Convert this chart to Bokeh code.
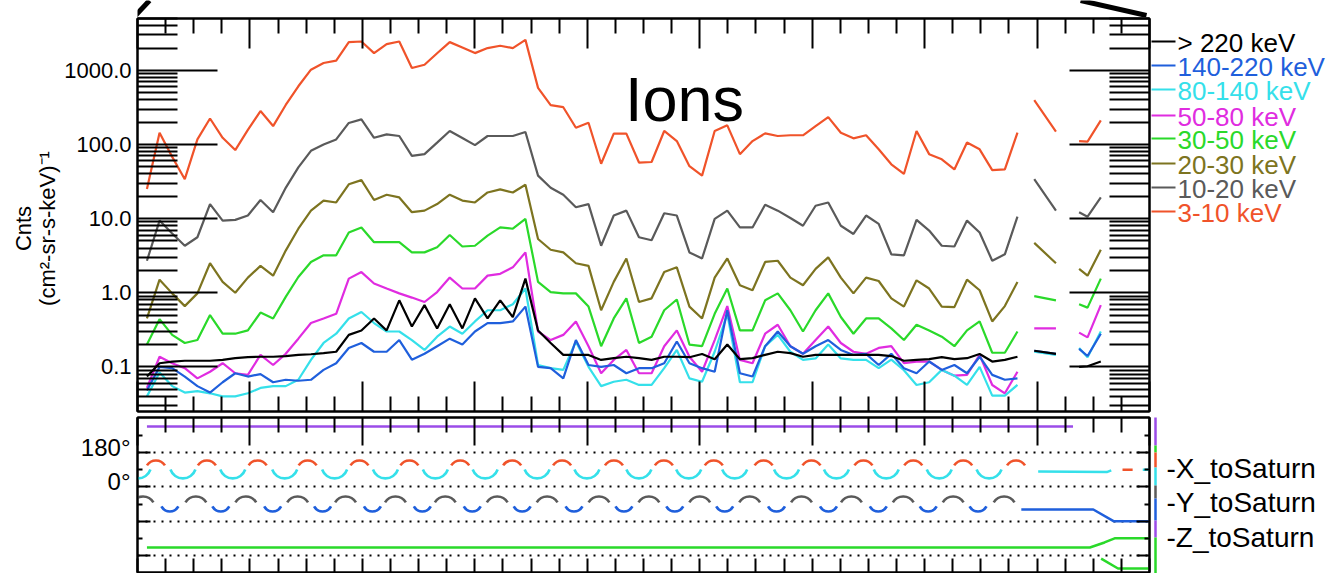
import math
import numpy as np
from bokeh.plotting import figure
from bokeh.models import (Range1d, LogAxis, LinearAxis, FixedTicker, CustomJSTickFormatter,
                          Label, ColumnDataSource, Grid)
from bokeh.core.properties import value
from bokeh.layouts import column, row
from bokeh.embed import file_html
from bokeh.resources import INLINE

nan = float("nan")

# ---------------- data ----------------
# time in hours from the start of the panel (regular sample grid, then two short later passes)
t_main = [round(0.084 + 0.1122 * i, 4) for i in range(70)]
t_late_a = [7.975, 8.168]
t_late_b = [8.374, 8.449, 8.567]
time_h = t_main + [nan] + t_late_a + [nan] + t_late_b

channel_labels = ["> 220 keV", "140-220 keV", "80-140 keV", "50-80 keV",
                  "30-50 keV", "20-30 keV", "10-20 keV", "3-10 keV"]
channel_colors = ["#000000", "#1f5fdc", "#35e0ea", "#e02ce0",
                  "#2ad92a", "#7d7420", "#5a5a5a", "#f0532a"]

ions_3_10 = [25, 144, 68, 34, 117, 224, 123, 84, 157, 282,
             177, 341, 609, 1020, 1254, 1349, 2400, 2447, 1706, 2256,
             2447, 1075, 1189, 1700, 2400, 2037, 1706, 1995, 2143, 1995,
             2575, 580, 339, 318, 168, 196, 55, 140, 140, 57,
             58, 152, 111, 51, 38, 152, 181, 74, 111, 141,
             130, 133, 133, 177, 234, 144, 121, 133, 86, 54,
             40, 152, 74, 63, 46, 106, 86, 45, 46, 144,
             nan, 395, 149, nan, 111, 109, 211]

ions_10_20 = [2.7, 9.4, 6.3, 4.3, 5.6, 15.7, 9.4, 9.6, 11, 17.8,
              12.2, 26, 49, 82, 100, 117, 195, 218, 123, 137,
              130, 70, 74, 106, 152, 122, 98, 130, 130, 130,
              147, 38, 26, 21, 14.2, 15.7, 4.3, 11, 12.8, 5.6,
              5.1, 11.8, 11, 3.5, 2.9, 9.9, 12.8, 7.6, 7.6, 15.4,
              12.8, 10.2, 8.0, 14.9, 16.5, 8.0, 6.2, 11, 8.5, 3.3,
              3.2, 9.6, 6.9, 4.3, 4.2, 9.4, 6.5, 2.7, 3.3, 10.6,
              nan, 34, 12.8, nan, 12.2, 10.6, 19.3]

ions_20_30 = [0.45, 1.5, 0.98, 0.66, 0.98, 2.5, 1.4, 1.0, 1.6, 2.3,
              1.7, 3.7, 7.3, 12.8, 17.5, 16.5, 29, 33, 17.8, 21,
              19.3, 12.2, 12.8, 15.7, 21, 17.5, 16.5, 22.5, 24.8, 22.5,
              28.6, 5.3, 3.8, 3.5, 2.5, 2.3, 0.58, 1.4, 2.9, 0.75,
              0.84, 1.9, 2.2, 0.65, 0.45, 1.6, 2.9, 1.26, 1.08, 2.6,
              2.7, 1.6, 1.26, 2.1, 3.0, 1.6, 0.98, 1.6, 1.44, 0.84,
              0.65, 1.47, 1.14, 0.65, 0.64, 1.5, 1.08, 0.41, 0.66, 1.4,
              nan, 4.7, 2.5, nan, 2.1, 1.7, 3.8]

ions_30_50 = [0.2, 0.44, 0.27, 0.21, 0.23, 0.5, 0.28, 0.28, 0.31, 0.54,
              0.45, 0.88, 1.63, 2.6, 3.2, 3.2, 6.5, 7.6, 4.8, 4.8,
              4.8, 3.5, 3.5, 4.1, 6.0, 4.2, 4.3, 5.9, 7.6, 7.3,
              9.9, 1.4, 1.02, 0.98, 0.98, 0.65, 0.19, 0.45, 0.84, 0.21,
              0.255, 0.58, 0.81, 0.2, 0.19, 0.52, 1.14, 0.31, 0.31, 0.79,
              0.98, 0.58, 0.3, 0.58, 0.98, 0.47, 0.28, 0.45, 0.45, 0.33,
              0.23, 0.37, 0.31, 0.255, 0.19, 0.31, 0.41, 0.155, 0.155, 0.3,
              nan, 0.9, 0.79, nan, 0.7, 0.63, 1.55]

ions_50_80 = [0.052, 0.137, 0.112, 0.096, 0.07, 0.086, 0.112, 0.082, 0.078, 0.145,
              0.106, 0.15, 0.24, 0.39, 0.45, 0.52, 1.55, 1.9, 1.33, 1.14,
              0.98, 0.86, 0.75, 1.02, 1.6, 1.14, 1.14, 1.7, 1.8, 2.2,
              3.5, 0.3, 0.23, 0.27, 0.41, 0.19, 0.082, 0.124, 0.169, 0.082,
              0.082, 0.19, 0.31, 0.137, 0.086, 0.23, 0.66, 0.124, 0.112, 0.28,
              0.37, 0.19, 0.15, 0.23, 0.35, 0.21, 0.16, 0.15, 0.18, 0.19,
              0.112, 0.118, 0.118, 0.091, 0.076, 0.078, 0.145, 0.057, 0.044, 0.086,
              nan, 0.33, 0.33, nan, 0.29, 0.25, 0.68]

ions_80_140 = [0.04, 0.084, 0.055, 0.045, 0.047, 0.044, 0.04, 0.04, 0.044, 0.052,
               0.055, 0.055, 0.067, 0.124, 0.21, 0.28, 0.45, 0.55, 0.39, 0.3,
               0.3, 0.23, 0.169, 0.255, 0.35, 0.28, 0.41, 0.58, 0.58, 0.7,
               1.14, 0.106, 0.096, 0.091, 0.22, 0.1, 0.055, 0.063, 0.067, 0.057,
               0.057, 0.096, 0.169, 0.07, 0.063, 0.16, 0.52, 0.062, 0.062, 0.19,
               0.27, 0.16, 0.124, 0.13, 0.2, 0.13, 0.124, 0.124, 0.096, 0.125,
               0.09, 0.057, 0.062, 0.091, 0.076, 0.057, 0.1, 0.041, 0.041, 0.057,
               nan, 0.16, 0.145, nan, 0.18, 0.135, 0.3]

ions_140_220 = [0.048, 0.1, 0.096, 0.074, 0.055, 0.045, 0.062, 0.082, 0.074, 0.08,
                0.062, 0.067, 0.065, 0.067, 0.091, 0.112, 0.18, 0.21, 0.16, 0.16,
                0.23, 0.125, 0.15, 0.19, 0.24, 0.2, 0.3, 0.39, 0.39, 0.41,
                0.65, 0.1, 0.096, 0.07, 0.23, 0.106, 0.1, 0.106, 0.082, 0.096,
                0.096, 0.112, 0.22, 0.112, 0.096, 0.086, 0.58, 0.082, 0.074, 0.19,
                0.3, 0.19, 0.15, 0.19, 0.23, 0.169, 0.145, 0.15, 0.106, 0.15,
                0.096, 0.082, 0.118, 0.091, 0.106, 0.082, 0.137, 0.078, 0.067, 0.07,
                nan, 0.165, 0.15, nan, 0.175, 0.14, 0.28]

ions_gt220 = [0.074, 0.112, 0.118, 0.121, 0.121, 0.121, 0.124, 0.131, 0.135, 0.137,
              0.137, 0.14, 0.145, 0.148, 0.153, 0.16, 0.27, 0.31, 0.45, 0.31,
              0.79, 0.35, 0.68, 0.33, 0.7, 0.33, 0.84, 0.45, 0.79, 0.47,
              1.55, 0.31, 0.21, 0.145, 0.145, 0.145, 0.124, 0.131, 0.137, 0.131,
              0.124, 0.137, 0.137, 0.135, 0.149, 0.127, 0.2, 0.127, 0.131, 0.145,
              0.16, 0.153, 0.137, 0.145, 0.145, 0.145, 0.145, 0.145, 0.145, 0.14,
              0.121, 0.124, 0.127, 0.135, 0.127, 0.131, 0.149, 0.118, 0.124, 0.137,
              nan, 0.165, 0.15, nan, 0.1, 0.102, 0.118]

series_in_legend_order = [ions_gt220, ions_140_220, ions_80_140, ions_50_80,
                          ions_30_50, ions_20_30, ions_10_20, ions_3_10]

# attitude panel: arc centres (time, h) of the periodic -X / -Y pointing traces
x_pos_arc_t = [0.164, 0.617, 1.069, 1.513, 1.974, 2.418, 2.870, 3.332, 3.776, 4.237,
               4.681, 5.125, 5.568, 5.994, 6.456, 6.899, 7.343, 7.813]
x_neg_arc_t = [0.004, 0.404, 0.847, 1.309, 1.753, 2.205, 2.649, 3.092, 3.554, 3.997,
               4.459, 4.902, 5.311, 5.772, 6.216, 6.659, 7.130, 7.573]
y_pos_arc_t = [0.049, 0.519, 0.963, 1.424, 1.850, 2.294, 2.737, 3.199, 3.643, 4.104,
               4.548, 5.000, 5.444, 5.905, 6.349, 6.810, 7.254, 7.707]
y_neg_arc_t = [0.288, 0.741, 1.202, 1.646, 2.089, 2.533, 2.977, 3.421, 3.882, 4.326,
               4.778, 5.222, 5.683, 6.145, 6.588, 7.032, 7.475]
x_pos_level, x_neg_level = 2.46, 2.63
y_pos_level, y_neg_level = 1.37, 1.565

z_pos_t = [0.084, 8.32]
z_pos_v = [3.76, 3.76]
z_neg_t = [0.084, 8.47, 8.60, 8.69, 9.0]
z_neg_v = [0.233, 0.233, 0.38, 0.50, 0.50]
z_neg2_t = [8.57, 8.72, 9.0]
z_neg2_v = [-0.09, -0.38, -0.38]
y_flat_t = [7.86, 8.50, 8.68, 9.0]
y_flat_v = [1.34, 1.34, 1.0, 1.0]
x_flat_t = [8.01, 8.62, 8.66]
x_flat_v = [2.45, 2.43, 2.48]
x_pos_dash_t = [8.76, 8.85]
x_pos_dash_v = [2.50, 2.50]
x_neg_dash_t = [8.94, 9.0]
x_neg_dash_v = [2.50, 2.50]

att_labels = ["-X_toSaturn", "-Y_toSaturn", "-Z_toSaturn"]
att_tick_labels = ["180°", "0°"]
y_label_lines = ["Cnts", "(cm²-sr-s-keV)⁻¹"]

ORANGE, GRAY, OLIVE, GREEN = "#f0532a", "#5a5a5a", "#7d7420", "#2ad92a"
MAGENTA, CYAN, BLUE, PURPLE = "#e02ce0", "#35e0ea", "#1f5fdc", "#9b4ce8"
FONT = "Liberation Sans"

# ---------------- layout geometry (page px) ----------------
PAGE_W, PAGE_H = 1335, 573
LEFT_W = 61                 # y-label strip
MID_X0, MID_X1 = 61, 1151   # main plots column
F_L, F_R = 135.0, 1149.0    # frame left/right
CONN_H = 17
TOP_H = 414 - CONN_H        # top panel canvas 17..414, frame 18..411
BOT_H = PAGE_H - 414        # bottom panel canvas 414..573, frame 417..572
Y_LO, Y_HI = 0.025, 5000.0
B_HI = 3 + (452 - 417) / 34.33
B_LO = -(572 - 555) / 34.33


def tx(px):
    return (px - F_L) / (F_R - F_L) * 9.0


def ty(py):
    lo, hi = math.log10(Y_LO), math.log10(Y_HI)
    return 10 ** (hi - (py - 18.0) / 393.0 * (hi - lo))


def by(py):
    return B_HI - (py - 417.0) / 155.0 * (B_HI - B_LO)


major_x = list(range(10))
minor_x = [k + q / 4 for k in range(9) for q in (1, 2, 3)]
major_y = [0.1, 1, 10, 100, 1000]
minor_y = [m * 10.0 ** e for e in range(-2, 4) for m in range(2, 10)
           if Y_LO <= m * 10.0 ** e <= Y_HI]

hide_fmt = CustomJSTickFormatter(code="return '';")
MB_L, MB_R = int(F_L) - MID_X0, MID_X1 - int(F_R)


def strip_fig(w, h, x0, x1, y0, y1, mb_l=0, mb_r=0):
    """Axis-less canvas whose data coordinates equal page pixels."""
    f = figure(width=w, height=h, x_range=Range1d(x0, x1), y_range=Range1d(y1, y0),
               x_axis_location=None, y_axis_location=None, output_backend="svg",
               toolbar_location=None, min_border_left=mb_l, min_border_right=mb_r,
               min_border_top=0, min_border_bottom=0)
    f.center = [r for r in f.center if not isinstance(r, Grid)]
    f.outline_line_color = None
    f.background_fill_color = "white"
    f.border_fill_color = "white"
    return f


def x_axis(tick_in, minor_in):
    return LinearAxis(ticker=FixedTicker(ticks=major_x, minor_ticks=minor_x),
                      formatter=hide_fmt, major_tick_in=tick_in, major_tick_out=0,
                      minor_tick_in=minor_in, minor_tick_out=0,
                      major_label_text_font_size="0px", major_label_standoff=0,
                      major_tick_line_width=2, minor_tick_line_width=2,
                      axis_line_width=2, major_tick_line_color="black",
                      minor_tick_line_color="black")


mid_w = MID_X1 - MID_X0

# ---------------- connector strip above the top panel ----------------
# (its frame is aligned with the panels' frames, page x 135..1149)
conn = strip_fig(mid_w, CONN_H, F_L, F_R, 0, CONN_H, MB_L, MB_R)
conn.segment(x0=[133, 1080], y0=[15, 0], x1=[147, 1146], y1=[0, 15],
             line_color="black", line_width=5)

# ---------------- top panel ----------------
p = figure(width=mid_w, height=TOP_H, x_range=Range1d(0, 9), y_range=Range1d(Y_LO, Y_HI),
           y_axis_type="log", x_axis_location=None, y_axis_location=None,
           output_backend="svg", toolbar_location=None,
           min_border_left=MB_L, min_border_right=MB_R,
           min_border_top=1, min_border_bottom=3)
p.center = [r for r in p.center if not isinstance(r, Grid)]
p.outline_line_color = "black"
p.outline_line_width = 2
p.background_fill_color = "white"
p.border_fill_color = "white"

p.add_layout(x_axis(30, 15), "above")
p.add_layout(x_axis(30, 15), "below")
left = LogAxis(ticker=FixedTicker(ticks=major_y, minor_ticks=minor_y),
               formatter=CustomJSTickFormatter(code="return tick.toFixed(1);"),
               major_tick_in=80, major_tick_out=0, minor_tick_in=40, minor_tick_out=0,
               major_label_standoff=6, major_label_text_font_size="22px",
               major_label_text_font=FONT, major_label_text_color="black",
               major_tick_line_width=2, minor_tick_line_width=2, axis_line_width=2)
p.add_layout(left, "left")
right = LogAxis(ticker=FixedTicker(ticks=major_y, minor_ticks=minor_y), formatter=hide_fmt,
                major_tick_in=80, major_tick_out=0, minor_tick_in=40, minor_tick_out=0,
                major_label_standoff=0, major_label_text_font_size="0px",
                major_tick_line_width=2, minor_tick_line_width=2, axis_line_width=2)
p.add_layout(right, "right")

src = ColumnDataSource(dict(t=np.array(time_h, dtype=float),
                            **{f"s{i}": np.array(s, dtype=float)
                               for i, s in enumerate(series_in_legend_order)}))
for i in reversed(range(len(series_in_legend_order))):
    p.line("t", f"s{i}", source=src, line_color=channel_colors[i], line_width=2.2)

p.add_layout(Label(x=tx(683), y=ty(98), text="Ions", text_align="center",
                   text_baseline="alphabetic", text_font=FONT, text_font_size="63px",
                   text_color="black"))

# ---------------- bottom panel ----------------
q = figure(width=mid_w, height=BOT_H, x_range=Range1d(0, 9), y_range=Range1d(B_LO, B_HI),
           x_axis_location=None, y_axis_location=None,
           output_backend="svg", toolbar_location=None,
           min_border_left=MB_L, min_border_right=MB_R,
           min_border_top=3, min_border_bottom=1)
q.center = [r for r in q.center if not isinstance(r, Grid)]
q.outline_line_color = "black"
q.outline_line_width = 2
q.background_fill_color = "white"
q.border_fill_color = "white"
q.add_layout(Grid(dimension=1, ticker=FixedTicker(ticks=[0, 1, 2, 3]),
                  grid_line_color="black", grid_line_width=2.2, grid_line_dash="2 6"))

q.add_layout(x_axis(28, 15), "above")
q.add_layout(x_axis(14, 14), "below")
for side in ("left", "right"):
    q.add_layout(LinearAxis(ticker=FixedTicker(ticks=[0, 1, 2, 3], minor_ticks=[0.5, 1.5, 2.5, 3.5]),
                            formatter=hide_fmt, major_tick_in=13, major_tick_out=0,
                            minor_tick_in=5, minor_tick_out=0, major_label_standoff=0,
                            major_label_text_font_size="0px", major_tick_line_width=2,
                            minor_tick_line_width=2, axis_line_width=2), side)
# angle labels (slightly above their reference lines, as in the original)
q.add_layout(LinearAxis(ticker=FixedTicker(ticks=[by(447), by(481)]),
                        formatter=CustomJSTickFormatter(
                            code=f"return tick > 2.6 ? '{att_tick_labels[0]}' : '{att_tick_labels[1]}';"),
                        major_tick_in=0, major_tick_out=0, minor_tick_in=0, minor_tick_out=0,
                        axis_line_color=None, major_tick_line_color=None,
                        minor_tick_line_color=None, major_label_standoff=7,
                        major_label_text_font=FONT, major_label_text_font_size="24px",
                        major_label_text_color="black"), "left")

q.line(z_pos_t, z_pos_v, line_color=PURPLE, line_width=2.5)
q.line(z_neg_t, z_neg_v, line_color=GREEN, line_width=2.5)
q.line(z_neg2_t, z_neg2_v, line_color=GREEN, line_width=2.5)
q.line(y_flat_t, y_flat_v, line_color=BLUE, line_width=2.5)
q.line(x_flat_t, x_flat_v, line_color=CYAN, line_width=2.5)
q.line(x_pos_dash_t, x_pos_dash_v, line_color=ORANGE, line_width=2.5)
q.line(x_neg_dash_t, x_neg_dash_v, line_color=CYAN, line_width=2.5)

q.arc(x=x_pos_arc_t, y=x_pos_level, radius=10.6, radius_units="screen",
      start_angle=math.radians(32), end_angle=math.radians(148),
      line_color=ORANGE, line_width=2.6)
q.arc(x=x_neg_arc_t, y=x_neg_level, radius=13.2, radius_units="screen",
      start_angle=math.radians(199), end_angle=math.radians(341),
      line_color=CYAN, line_width=2.6)
q.arc(x=y_pos_arc_t, y=y_pos_level, radius=12.0, radius_units="screen",
      start_angle=math.radians(30), end_angle=math.radians(150),
      line_color=GRAY, line_width=2.6)
q.arc(x=y_neg_arc_t, y=y_neg_level, radius=9.7, radius_units="screen",
      start_angle=math.radians(209), end_angle=math.radians(331),
      line_color=BLUE, line_width=2.6)

# ---------------- left strip: y-axis title ----------------
lf = strip_fig(LEFT_W, PAGE_H, 0, LEFT_W, 0, PAGE_H)
lf.text(x=[23, 47], y=[228, 228], text=y_label_lines, angle=math.pi / 2,
        text_align="center", text_baseline="middle", text_font=value(FONT),
        text_font_size="22px", text_color="black")

# ---------------- right strip: legends ----------------
rw = PAGE_W - MID_X1
rf = strip_fig(rw, PAGE_H, MID_X1, PAGE_W, 0, PAGE_H)
leg_rows_py = [41, 65, 89, 115, 138, 163, 187, 211]
leg_src = ColumnDataSource(dict(y=leg_rows_py, yt=[v + 1 for v in leg_rows_py],
                                lab=channel_labels, col=channel_colors))
rf.segment(x0=1149, y0="y", x1=1175, y1="y", source=leg_src, line_color="col", line_width=2)
rf.text(x=1177, y="yt", text="lab", text_color="col", source=leg_src,
        text_font=value(FONT), text_font_size="26px", text_baseline="alphabetic")

rf.text(x=1166, y=[468, 502, 537], text=att_labels, text_baseline="middle",
        text_font=value(FONT), text_font_size="28px", text_color="black")

strip_src = ColumnDataSource(dict(
    y0=[417, 445, 452, 467, 485, 498, 520, 537],
    y1=[445, 452, 467, 485, 498, 520, 537, 573],
    col=[PURPLE, GREEN, ORANGE, CYAN, GRAY, BLUE, PURPLE, GREEN]))
rf.segment(x0=1155, y0="y0", x1=1155, y1="y1", source=strip_src, line_color="col", line_width=2.5)

layout = row(lf, column(conn, p, q, spacing=0), rf, spacing=0)
open("out.html", "w").write(file_html(layout, INLINE))
